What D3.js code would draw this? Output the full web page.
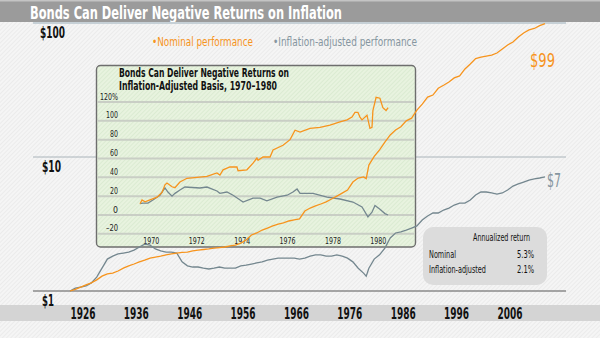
<!DOCTYPE html>
<html><head><meta charset="utf-8">
<script src="https://cdn.jsdelivr.net/npm/d3@7"></script>
<style>
html,body{margin:0;padding:0;background:#f3f3f3;}
svg{display:block;}
text{font-family:"Liberation Sans Narrow","DejaVu Sans Condensed","Arial Narrow",sans-serif;}
</style></head>
<body>
<svg id="chart" width="600" height="338"></svg>
<script>
// ---------- DATA ----------
const title = "Bonds Can Deliver Negative Returns on Inflation";
const years = [1926,1927,1928,1929,1930,1931,1932,1933,1934,1935,1936,1937,1938,1939,1940,1941,1942,1943,1944,1945,1946,1947,1948,1949,1950,1951,1952,1953,1954,1955,1956,1957,1958,1959,1960,1961,1962,1963,1964,1965,1966,1967,1968,1969,1970,1971,1972,1973,1974,1975,1976,1977,1978,1979,1980,1981,1981.5,1982,1983,1984,1985,1986,1987,1988,1989,1990,1991,1992,1993,1994,1995,1996,1997,1998,1999,2000,2001,2002,2003,2004,2005,2006,2007,2008,2009,2010,2011,2012,2013,2014,2015];
const nominal = [1.00,1.03,1.07,1.11,1.15,1.21,1.29,1.34,1.36,1.41,1.48,1.54,1.59,1.65,1.70,1.76,1.79,1.82,1.86,1.89,1.92,1.94,1.95,1.99,2.02,2.04,2.06,2.09,2.11,2.13,2.17,2.20,2.28,2.40,2.62,2.71,2.85,2.95,3.06,3.16,3.22,3.33,3.39,3.45,3.95,4.16,4.31,4.46,4.62,4.86,5.11,5.38,5.67,6.5,6.97,7.1,6.9,8.7,10.1,11.3,12.9,14.6,15.9,16.8,18.6,19.5,22.4,24.8,28.0,29.0,32.6,34.3,36.3,38.9,40.3,45.4,49.5,54.2,55.6,56.7,57.6,59.7,64.0,68.5,72.1,78.6,84.2,88.7,91,95.5,99];
const inflationAdjusted = [1.00,1.05,1.07,1.09,1.15,1.27,1.48,1.73,1.82,1.89,1.92,1.95,2.02,2.13,2.24,2.20,2.06,1.99,1.95,1.95,1.92,1.65,1.54,1.51,1.51,1.48,1.46,1.48,1.51,1.48,1.48,1.48,1.54,1.56,1.59,1.62,1.65,1.70,1.73,1.76,1.76,1.76,1.76,1.73,1.76,1.82,1.86,1.86,1.82,1.82,1.86,1.82,1.76,1.65,1.48,1.36,1.29,1.48,1.73,1.86,2.09,2.49,2.71,2.76,2.85,2.95,3.06,3.39,3.63,3.82,3.82,4.02,4.16,4.38,4.53,4.53,4.77,5.20,5.48,5.48,5.39,5.29,5.39,5.67,6.07,6.29,6.50,6.73,6.86,6.97,7.1];
const xTickYears = [1926,1936,1946,1956,1966,1976,1986,1996,2006];
const yTickValues = [1,10,100];
const yTickLabels = ["$1","$10","$100"];
const legendLabels = ["\u2022Nominal performance","\u2022Inflation-adjusted performance"];
const endLabels = ["$99","$7"];

// inset (1970-1980, cumulative %)
const insetTitle = ["Bonds Can Deliver Negative Returns on","Inflation-Adjusted Basis, 1970\u20131980"];
const insetNomT = [1970.0,1970.09,1970.22,1970.44,1970.75,1970.97,1971.10,1971.19,1971.41,1971.54,1971.76,1972.07,1972.51,1972.95,1973.39,1973.52,1973.66,1973.96,1974.27,1974.32,1974.71,1974.98,1975.15,1975.20,1975.42,1975.73,1975.86,1976.30,1976.61,1976.83,1977.05,1977.49,1977.93,1978.37,1978.81,1979.12,1979.34,1979.47,1979.60,1979.69,1979.78,1980.00,1980.13,1980.22,1980.26,1980.40,1980.57,1980.70,1980.84,1980.93];
const insetNomV = [12,16,14,16,19,24,32,34,30,29,35,39,40,41,44.6,42.5,48,51,51,47,48,55,60.5,58,61.6,61.6,69,74,80,90,88,92,93,95.5,98.8,101,104,109,109,104,101,106,92,93,111,125,124,114,111,114];
const insetRealT = [1970.0,1970.13,1970.35,1970.57,1970.88,1971.10,1971.23,1971.41,1971.54,1971.76,1971.98,1972.64,1972.95,1973.39,1973.52,1973.83,1974.10,1974.41,1974.54,1974.98,1975.29,1975.59,1976.04,1976.48,1976.74,1976.92,1977.05,1977.62,1978.24,1978.81,1979.38,1979.78,1980.04,1980.22,1980.35,1980.57,1980.79,1980.93];
const insetRealV = [12,12.7,12.7,16,21,28.7,24.4,20,23,26.5,29.7,28.7,29.7,25.5,23,24.4,21,16,13.8,18,18,15,19,21,24.4,27.6,23,23,19,17,13.8,8.5,-2,3,10,6,1.5,0];
const insetYTicks = [-20,0,20,40,60,80,100,120];
const insetXTicks = [1970,1972,1974,1976,1978,1980];

const statsHeader = "Annualized return";
const statsNames = ["Nominal","Inflation-adjusted"];
const statsValues = ["5.3%","2.1%"];

// ---------- STYLE ----------
const ORANGE = "#f7941d", SLATE = "#74878f", SLATE_TXT = "#8696a0";
// compress text horizontally to a target width (condensed look)
function fit(sel, w){ sel.attr("textLength", w).attr("lengthAdjust","spacingAndGlyphs"); return sel; }

const svg = d3.select("#chart");
const defs = svg.append("defs");
const bgp = defs.append("pattern").attr("id","bgp").attr("width",3).attr("height",3)
  .attr("patternUnits","userSpaceOnUse").attr("patternTransform","rotate(45)");
bgp.append("rect").attr("width",3).attr("height",3).attr("fill","#f5f5f5");
bgp.append("rect").attr("width",1).attr("height",3).attr("fill","#ebebeb");
const grp = defs.append("pattern").attr("id","grp").attr("width",3).attr("height",3)
  .attr("patternUnits","userSpaceOnUse").attr("patternTransform","rotate(45)");
grp.append("rect").attr("width",3).attr("height",3).attr("fill","#e8f3df");
grp.append("rect").attr("width",1).attr("height",3).attr("fill","#dbebd2");

svg.append("rect").attr("width",600).attr("height",338).attr("fill","url(#bgp)");

// title bar
svg.append("rect").attr("x",0).attr("y",0).attr("width",600).attr("height",22).attr("fill","#9b9b9b");
svg.append("rect").attr("x",0).attr("y",0).attr("width",600).attr("height",1.5).attr("fill","#c4c4c4");
fit(svg.append("text").attr("x",30).attr("y",19).attr("fill","#fff").attr("font-weight","bold")
  .attr("font-size",18).text(title), 312);

// ---------- MAIN SCALES ----------
const x = d3.scaleLinear().domain([1926,2015]).range([70,545]);
const y = d3.scaleLog().domain([1,100]).range([291,23]);

// x band
svg.append("rect").attr("x",0).attr("y",305).attr("width",600).attr("height",16).attr("fill","#d4d4d4");
const xAxis = d3.axisBottom(x).tickValues(xTickYears).tickFormat(d3.format("d")).tickSize(0).tickPadding(0);
const gx = svg.append("g").attr("transform","translate(0,306)").call(xAxis);
gx.select(".domain").remove();
fit(gx.selectAll("text").attr("text-anchor","start").attr("dy","0").attr("y",13)
  .attr("font-size",15).attr("font-weight","bold").attr("fill","#111")
  .style("font-family",'"Liberation Sans Narrow","DejaVu Sans Condensed",sans-serif'), 25);

// horizontal gridlines
svg.selectAll("line.hg").data(yTickValues).enter().append("line")
  .attr("x1",33).attr("x2",566).attr("y1",d=>y(d)).attr("y2",d=>y(d))
  .attr("stroke",(d,i)=>i===0?"#8a8a8a":(i===1?"#aab4ba":"#c6d0d6"))
  .attr("stroke-width",(d,i)=>i===0?1.6:(i===1?1:2));
svg.selectAll("text.yl").data(yTickValues).enter().append("text")
  .attr("x",(d,i)=>i===2?40:42).attr("y",d=>y(d)+15).attr("font-size",15).attr("font-weight","bold")
  .attr("fill","#111").text((d,i)=>yTickLabels[i])
  .attr("textLength",(d,i)=>[12,19,25][i]).attr("lengthAdjust","spacingAndGlyphs");

// legend
fit(svg.append("text").attr("x",152).attr("y",46).attr("font-size",12.5).attr("fill",ORANGE).text(legendLabels[0]),101);
fit(svg.append("text").attr("x",273).attr("y",46).attr("font-size",12.5).attr("fill",SLATE_TXT).text(legendLabels[1]),144);

// ---------- INSET ----------
const ix = d3.scaleLinear().domain([1970,1981]).range([140,389.7]);
const iy = d3.scaleLinear().domain([0,120]).range([215,102]);
const inset = svg.append("g");
inset.append("rect").attr("x",96.5).attr("y",65.5).attr("width",319).attr("height",181.5).attr("rx",4)
  .attr("fill","url(#grp)").attr("stroke","#6e6e6e").attr("stroke-width",1.4);
inset.selectAll("line.ig").data(insetYTicks).enter().append("line")
  .attr("x1",97.5).attr("x2",414.5).attr("y1",d=>iy(d)).attr("y2",d=>iy(d))
  .attr("stroke","#c9cec5").attr("stroke-width",2);
inset.selectAll("text.iyl").data(insetYTicks).enter().append("text")
  .attr("x",118).attr("y",d=>iy(d)-2.5).attr("text-anchor","end").attr("font-size",9).attr("fill","#222")
  .text(d=>d===120?"120%":(d<0?"\u2013"+Math.abs(d):d))
  .attr("textLength",d=>d===120?18:(d===0?5:(d<0?12:(d===100?12:8)))).attr("lengthAdjust","spacingAndGlyphs");
fit(inset.selectAll("text.ixl").data(insetXTicks).enter().append("text")
  .attr("x",d=>ix(d+0.5)).attr("y",244).attr("text-anchor","middle").attr("font-size",9.5).attr("fill","#222")
  .text(d=>d), 16);
inset.selectAll("text.it").data(insetTitle).enter().append("text")
  .attr("x",119).attr("y",(d,i)=>77+i*13).attr("font-size",12).attr("font-weight","bold").attr("fill","#111")
  .attr("textLength",(d,i)=>i===0?170:158).attr("lengthAdjust","spacingAndGlyphs").text(d=>d);

const iline = d3.line().x(d=>ix(d[0])).y(d=>iy(d[1]));
inset.append("path").datum(insetRealT.map((t,i)=>[t,insetRealV[i]])).attr("d",iline)
  .attr("fill","none").attr("stroke",SLATE).attr("stroke-width",1.3);
inset.append("path").datum(insetNomT.map((t,i)=>[t,insetNomV[i]])).attr("d",iline)
  .attr("fill","none").attr("stroke",ORANGE).attr("stroke-width",1.3);

// ---------- MAIN LINES ----------
const line = d3.line().x(d=>x(d[0])).y(d=>y(d[1]));
svg.append("path").datum(years.map((t,i)=>[t,inflationAdjusted[i]])).attr("d",line)
  .attr("fill","none").attr("stroke",SLATE).attr("stroke-width",1.3);
svg.append("path").datum(years.map((t,i)=>[t,nominal[i]])).attr("d",line)
  .attr("fill","none").attr("stroke",ORANGE).attr("stroke-width",1.3);

fit(svg.append("text").attr("x",530).attr("y",67).attr("font-size",19).attr("fill",ORANGE).text(endLabels[0]),25);
fit(svg.append("text").attr("x",547).attr("y",187).attr("font-size",19).attr("fill",SLATE_TXT).text(endLabels[1]),14);

// ---------- STATS BOX ----------
svg.append("rect").attr("x",423).attr("y",227).attr("width",124).attr("height",58).attr("rx",10)
  .attr("fill","#dcdcdc");
fit(svg.append("text").attr("x",473).attr("y",241).attr("font-size",10).attr("fill","#111").text(statsHeader),57);
svg.selectAll("text.sn").data(statsNames).enter().append("text")
  .attr("x",429).attr("y",(d,i)=>258+i*15).attr("font-size",10).attr("fill","#111").text(d=>d)
  .attr("textLength",(d,i)=>[27,57][i]).attr("lengthAdjust","spacingAndGlyphs");
fit(svg.selectAll("text.sv").data(statsValues).enter().append("text")
  .attr("x",517).attr("y",(d,i)=>258+i*15).attr("font-size",10).attr("fill","#111").text(d=>d),17);
</script>
</body></html>
